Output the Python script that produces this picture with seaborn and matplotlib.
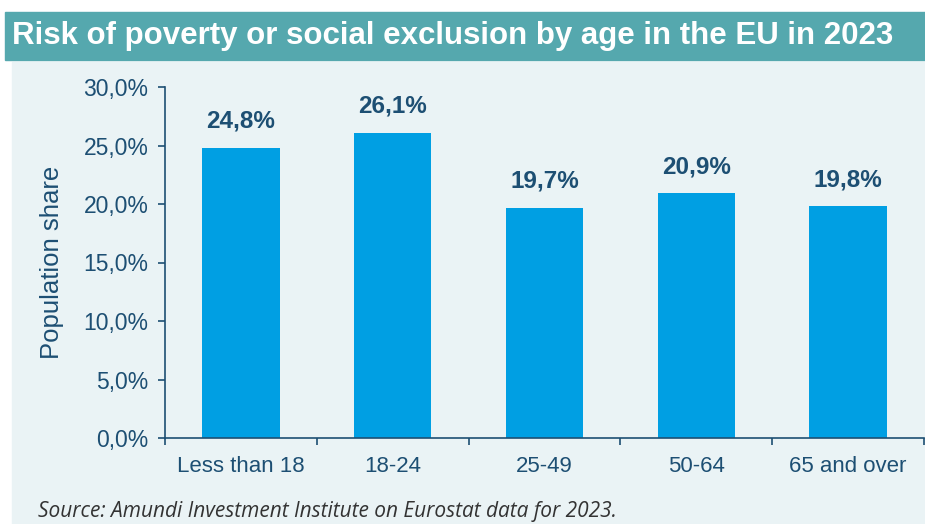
import matplotlib
matplotlib.use("Agg")
import matplotlib.pyplot as plt
import matplotlib.patches as mpatches
from matplotlib.ticker import FuncFormatter, FixedLocator
import seaborn as sns
import pandas as pd

# data
age_groups = ["Less than 18", "18-24", "25-49", "50-64", "65 and over"]
share = [24.8, 26.1, 19.7, 20.9, 19.8]

navy = "#1d4f73"
bar_blue = "#009fe3"
font = ["Liberation Sans Narrow", "Liberation Sans", "DejaVu Sans"]

sns.set_style("white")
plt.rcParams["font.family"] = font

W, H = 925, 524
fig = plt.figure(figsize=(W / 100, H / 100), dpi=100, facecolor="white")

# light panel and title banner
fig.patches.append(mpatches.Rectangle((12 / W, 0), 1, 1 - 62 / H, transform=fig.transFigure,
                                      color="#eaf3f5", zorder=-2))
fig.patches.append(mpatches.Rectangle((5 / W, 1 - 60 / H), 1, 48 / H, transform=fig.transFigure,
                                      color="#55a8ae", zorder=-2))
fig.text(12 / W, 1 - 36 / H, "Risk of poverty or social exclusion by age in the EU in 2023",
         color="white", fontsize=22.5, fontweight="bold", va="center", ha="left")

ax = fig.add_axes([165 / W, 1 - 438 / H, 759 / W, 351 / H])
ax.set_facecolor("none")

df = pd.DataFrame({"age": age_groups, "share": share})
sns.barplot(data=df, x="age", y="share", color=bar_blue, width=0.51, saturation=1,
            linewidth=0, ax=ax)

ax.set_ylim(0, 30)
ax.set_xlim(-0.5, len(age_groups) - 0.5)
ax.set_yticks(range(0, 31, 5))
ax.yaxis.set_major_formatter(FuncFormatter(lambda v, p: f"{v:.1f}%".replace(".", ",")))
ax.xaxis.set_minor_locator(FixedLocator([i - 0.5 for i in range(len(age_groups) + 1)]))
ax.tick_params(axis="x", which="major", length=0, pad=13, labelsize=16, labelcolor=navy)
ax.tick_params(axis="x", which="minor", length=5, width=1.2, color=navy, direction="out", bottom=True)
ax.tick_params(axis="y", length=5, width=1.2, color=navy, direction="out", pad=7,
               labelsize=16.5, labelcolor=navy, left=True)

for s in ["top", "right"]:
    ax.spines[s].set_visible(False)
for s in ["left", "bottom"]:
    ax.spines[s].set_color(navy)
    ax.spines[s].set_linewidth(1.2)

ax.set_xlabel("")
ax.set_ylabel("Population share", fontsize=18.5, color=navy, labelpad=14)

for i, v in enumerate(share):
    ax.text(i, v + 1.3, f"{v:.1f}%".replace(".", ","), ha="center", va="bottom",
            fontsize=17.5, fontweight="bold", color=navy)

fig.text(38 / W, 1 - 512 / H, "Source: Amundi Investment Institute on Eurostat data for 2023.",
         fontsize=15, style="italic", color="#333333", va="center", family=["Open Sans", "DejaVu Sans"])

fig.savefig("out.png", dpi=100, facecolor=fig.get_facecolor())
